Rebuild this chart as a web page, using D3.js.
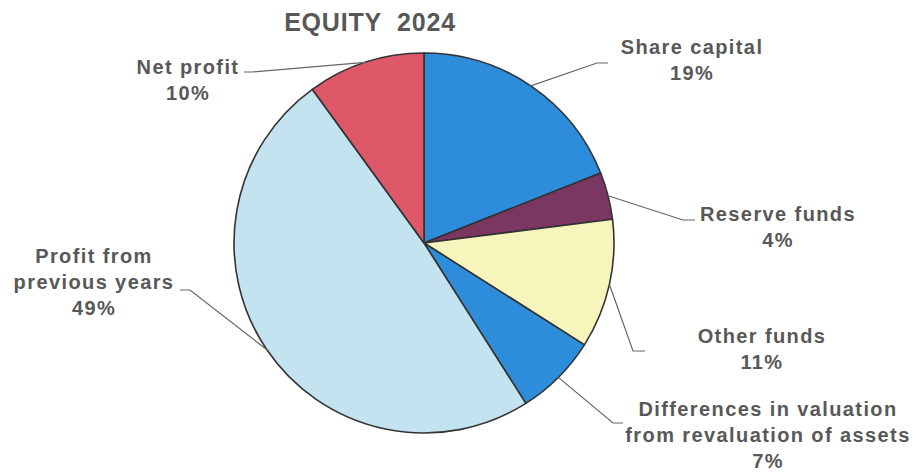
<!DOCTYPE html>
<html>
<head>
<meta charset="utf-8">
<script src="https://cdn.jsdelivr.net/npm/d3@7"></script>
<style>
  body { margin: 0; background: #fff; }
  svg { display: block; font-family: Arial, "Liberation Sans", sans-serif; }
</style>
</head>
<body>
<div id="chart"></div>
<script>
// data ---------------------------------------------------------------
const categories = ['Share capital', 'Reserve funds', 'Other funds',
  'Differences in valuation from revaluation of assets',
  'Profit from previous years', 'Net profit'];
const values = [19, 4, 11, 7, 49, 10];
const labelLines = [
  ['Share capital'], ['Reserve funds'], ['Other funds'],
  ['Differences in valuation', 'from revaluation of assets'],
  ['Profit from', 'previous years'], ['Net profit']
];
const colors = ['#2e8ddb', '#7c3662', '#f7f5bc', '#2e8ddb', '#c3e3f1', '#de5869'];

// layout --------------------------------------------------------------
const width = 916;
const height = 472;
const cx = 424;
const cy = 243;
const radius = 190;

// label anchor (text centre) and leader elbow per slice
const labelPos = [
  { x: 692, y: 54, ex: 597, ey: 63, hx: 608 },
  { x: 778, y: 221, ex: 683, ey: 220, hx: 695 },
  { x: 762, y: 343, ex: 633, ey: 351, hx: 645 },
  { x: 768, y: 416, ex: 613, ey: 423, hx: 623 },
  { x: 94, y: 263, ex: 190, ey: 290, hx: 180 },
  { x: 188, y: 74, ex: 252, ey: 72, hx: 244 }
];

const svg = d3.select('#chart').append('svg')
  .attr('width', width)
  .attr('height', height);

// title
svg.append('text')
  .attr('x', 370)
  .attr('y', 31)
  .attr('text-anchor', 'middle')
  .attr('font-size', '25px')
  .attr('font-weight', 'bold')
  .attr('letter-spacing', '0.8px')
  .attr('fill', '#585858')
  .style('white-space', 'pre')
  .text('EQUITY  2024');

// pie -----------------------------------------------------------------
const pie = d3.pie().sort(null).value(d => d);
const arcs = pie(values);
const arc = d3.arc().innerRadius(0).outerRadius(radius);

const g = svg.append('g').attr('transform', `translate(${cx},${cy})`);
g.selectAll('path')
  .data(arcs)
  .enter()
  .append('path')
  .attr('d', arc)
  .attr('fill', (d, i) => colors[i])
  .attr('stroke', '#333')
  .attr('stroke-width', 1.6)
  .attr('stroke-linejoin', 'round');

// leader lines ---------------------------------------------------------
arcs.forEach((d, i) => {
  const mid = (d.startAngle + d.endAngle) / 2;
  const px = cx + radius * Math.sin(mid);
  const py = cy - radius * Math.cos(mid);
  const p = labelPos[i];
  svg.append('polyline')
    .attr('points', `${px},${py} ${p.ex},${p.ey} ${p.hx},${p.ey}`)
    .attr('fill', 'none')
    .attr('stroke', '#666')
    .attr('stroke-width', 1.2);
});

// labels --------------------------------------------------------------
labelLines.forEach((lines, i) => {
  const p = labelPos[i];
  const t = svg.append('text')
    .attr('text-anchor', 'middle')
    .attr('font-size', '20px')
    .attr('font-weight', 'bold')
    .attr('letter-spacing', '1.4px')
    .attr('fill', '#585858');
  const all = lines.concat([values[i] + '%']);
  all.forEach((s, k) => {
    t.append('tspan')
      .attr('x', p.x)
      .attr('y', p.y + k * 26)
      .text(s);
  });
});
</script>
</body>
</html>
